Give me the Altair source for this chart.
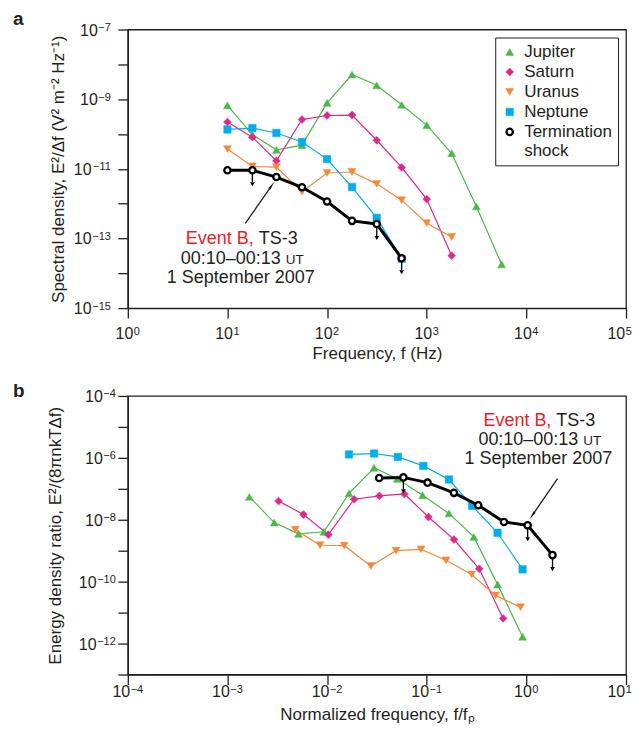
import altair as alt
import pandas as pd

DARK = "#231F20"
RED = "#ED1C24"
FONT = "Liberation Sans"

SERIES = ["Jupiter", "Saturn", "Uranus", "Neptune", "Termination shock"]
COLORS = ["#4CB848", "#E0288C", "#F5873A", "#00AEEF", "#000000"]
FILLS = ["#4CB848", "#E0288C", "#F5873A", "#00AEEF", "#FFFFFF"]
SHAPES = ["triangle-up", "diamond", "triangle-down", "square", "circle"]
SIZES = [62, 62, 62, 56, 40]
STROKE_W = [0.5, 0.5, 0.5, 0.5, 2.3]

# ---------------- panel a: spectral density vs frequency (Hz)
a_jupiter_f = [10, 17.8, 31, 56, 100, 178, 315, 560, 1000, 1780, 3150, 5650]
a_jupiter_v = [6.6e-10, 9.5e-11, 3.5e-11, 4.8e-11, 7.8e-10, 5.1e-9, 2.5e-9, 6.9e-10, 1.8e-10, 2.8e-11, 8.3e-13, 1.8e-14]
a_saturn_f = [10, 17.8, 31, 56, 100, 178, 315, 560, 1000, 1780]
a_saturn_v = [2.2e-10, 8.1e-11, 1.7e-11, 2.6e-10, 3.4e-10, 3.5e-10, 6.6e-11, 1.1e-11, 1.35e-12, 3.2e-14]
a_uranus_f = [10, 17.8, 31, 56, 100, 178, 315, 560, 1000, 1780]
a_uranus_v = [3.7e-11, 1.17e-11, 1.12e-11, 2.2e-12, 7.6e-12, 8.1e-12, 3.7e-12, 1.26e-12, 2.75e-13, 1.1e-13]
a_neptune_f = [10, 17.8, 31, 56, 100, 178, 315, 560]
a_neptune_v = [1.35e-10, 1.48e-10, 1.07e-10, 5.9e-11, 1.9e-11, 3.0e-12, 3.9e-13, 2.6e-14]
a_ts_f = [10, 17.8, 31, 56, 100, 178, 315, 560]
a_ts_v = [9.1e-12, 9.1e-12, 5.8e-12, 2.95e-12, 1.15e-12, 3.2e-13, 2.6e-13, 2.7e-14]
a_ts_limit = [False, True, False, False, False, False, True, True]

a_x_ticks = [1, 10, 100, 1e3, 1e4, 1e5]
a_x_exp = ["0", "1", "2", "3", "4", "5"]
a_y_ticks = [1e-15, 1e-14, 1e-13, 1e-12, 1e-11, 1e-10, 1e-9, 1e-8, 1e-7]
a_y_exp = ["−15", "", "−13", "", "−11", "", "−9", "", "−7"]

a_note_xy = [13.6, 9.4e-14]
a_arrow_tail = [15.1, 2.72e-13]
a_arrow_head = [27.35, 3.08e-12]

# ---------------- panel b: energy density ratio vs normalized frequency
b_jupiter_f = [1.66e-3, 2.95e-3, 5.16e-3, 9.3e-3, 1.66e-2, 2.96e-2, 5.07e-2, 9.1e-2, 0.167, 0.297, 0.514, 0.916]
b_jupiter_v = [5.5e-8, 8.1e-9, 3.5e-9, 4.1e-9, 7.1e-8, 4.8e-7, 2.1e-7, 6.2e-8, 1.6e-8, 2.8e-9, 8.1e-11, 1.66e-12]
b_saturn_f = [3.26e-3, 5.8e-3, 1.03e-2, 1.87e-2, 3.35e-2, 5.97e-2, 0.104, 0.1875, 0.3365, 0.585]
b_saturn_v = [4.0e-8, 1.48e-8, 3.3e-9, 4.6e-8, 5.9e-8, 6.8e-8, 1.23e-8, 2.3e-9, 2.6e-10, 6.5e-12]
b_uranus_f = [4.79e-3, 8.5e-3, 1.49e-2, 2.75e-2, 4.92e-2, 8.77e-2, 0.156, 0.2825, 0.491, 0.875]
b_uranus_v = [4.8e-9, 1.5e-9, 1.45e-9, 3.2e-10, 1.0e-9, 1.1e-9, 4.9e-10, 1.7e-10, 3.6e-11, 1.5e-11]
b_neptune_f = [1.66e-2, 2.96e-2, 5.13e-2, 9.25e-2, 0.167, 0.286, 0.514, 0.916]
b_neptune_v = [1.29e-6, 1.38e-6, 1.07e-6, 5.5e-7, 2.0e-7, 2.8e-8, 3.8e-9, 2.5e-10]
b_ts_f = [3.33e-2, 5.83e-2, 0.102, 0.1875, 0.329, 0.596, 1.03, 1.83]
b_ts_v = [2.24e-7, 2.34e-7, 1.58e-7, 7.4e-8, 2.95e-8, 8.5e-9, 6.6e-9, 7.2e-10]
b_ts_limit = [False, True, False, False, False, False, True, True]

b_x_ticks = [1e-4, 1e-3, 1e-2, 1e-1, 1, 10]
b_x_exp = ["−4", "−3", "−2", "−1", "0", "1"]
b_y_ticks = [1e-13, 1e-12, 1e-11, 1e-10, 1e-9, 1e-8, 1e-7, 1e-6, 1e-5, 1e-4]
b_y_exp = ["", "−12", "", "−10", "", "−8", "", "−6", "", "−4"]

b_note_xy = [1.32, 1.59e-5]
b_arrow_tail = [2.054, 2.14e-7]
b_arrow_head = [1.162, 1.47e-8]

W, H = 499, 279
BASE_FS = 16
EXP_FS = 11
W10 = 2 * 0.556 * BASE_FS   # width of "10"
CH = 0.57 * EXP_FS          # width of one exponent character
GAP = 0.5
RIGHT_LIMIT = 505           # rightmost pixel (from plot origin) kept inside the page


def series_frame(pairs):
    rows = []
    for name, xs, ys in pairs:
        for i, (xv, yv) in enumerate(zip(xs, ys)):
            rows.append({"series": name, "x": xv, "y": yv, "i": i})
    return pd.DataFrame(rows)


LEG = alt.Legend(
    title=None, orient="top-right", offset=8, strokeColor=DARK, padding=6,
    labelFontSize=17, labelFont=FONT, labelColor=DARK,
    rowPadding=2, labelOffset=6,
    labelExpr="datum.label == 'Termination shock' ? ['Termination', 'shock'] : datum.label",
)


def x_tick_labels(ticks, exps, X, base_dy, exp_dy):
    df = pd.DataFrame({"x": ticks, "exp": exps})
    df["n"] = df["exp"].str.len()
    last = df["x"] == df["x"].max()
    df["shift"] = 0.0
    tw_last = W10 + GAP + df.loc[last, "n"].iloc[0] * CH
    df.loc[last, "shift"] = min(0.0, RIGHT_LIMIT - (W + tw_last / 2))
    layers = []
    for (n, sh), g in df.groupby(["n", "shift"]):
        tw = W10 + GAP + n * CH
        c = alt.Chart(g).encode(x=X)
        layers.append(c.mark_text(text="10", align="right", baseline="alphabetic",
                                  dx=-tw / 2 + W10 + sh, fontSize=BASE_FS, color=DARK, font=FONT)
                      .encode(y=alt.value(H + base_dy)))
        layers.append(c.mark_text(align="left", baseline="alphabetic",
                                  dx=-tw / 2 + W10 + GAP + sh, fontSize=EXP_FS, color=DARK, font=FONT)
                      .encode(text="exp:N", y=alt.value(H + exp_dy)))
    return layers


def y_tick_labels(ticks, exps, Y, right):
    df = pd.DataFrame({"y": ticks, "exp": exps})
    df = df[df["exp"] != ""].copy()
    df["n"] = df["exp"].str.len()
    layers = []
    for n, g in df.groupby("n"):
        c = alt.Chart(g).encode(y=Y)
        layers.append(c.mark_text(text="10", align="right", baseline="alphabetic", dy=6,
                                  fontSize=BASE_FS, color=DARK, font=FONT)
                      .encode(x=alt.value(-right - n * CH - GAP)))
        layers.append(c.mark_text(align="right", baseline="alphabetic", dy=1.5,
                                  fontSize=EXP_FS, color=DARK, font=FONT)
                      .encode(text="exp:N", x=alt.value(-right)))
    return layers


def panel(planets, ts_x, ts_v, ts_limit, xdom, xticks, xexp, xtitle, x_pad, x_dys,
          ydom, yticks, yexp, ytitle, y_pad, y_right, note_xy, tail, head, head_angle,
          letter, letter_y, legend):
    X = alt.X("x:Q", scale=alt.Scale(type="log", domain=xdom, nice=False),
              axis=alt.Axis(values=xticks, labels=False, title=xtitle, titlePadding=x_pad))
    Y = alt.Y("y:Q", scale=alt.Scale(type="log", domain=ydom, nice=False),
              axis=alt.Axis(values=yticks, labels=False, title=ytitle, titlePadding=y_pad))

    leg = LEG if legend else None
    sym = dict(
        shape=alt.Shape("series:N", scale=alt.Scale(domain=SERIES, range=SHAPES), legend=leg),
        fill=alt.Fill("series:N", scale=alt.Scale(domain=SERIES, range=FILLS), legend=leg),
        stroke=alt.Stroke("series:N", scale=alt.Scale(domain=SERIES, range=COLORS), legend=leg),
        strokeWidth=alt.StrokeWidth("series:N", scale=alt.Scale(type="ordinal", domain=SERIES, range=STROKE_W), legend=leg),
        size=alt.Size("series:N", scale=alt.Scale(type="ordinal", domain=SERIES, range=SIZES), legend=leg),
    )

    pdf = series_frame(planets)
    tdf = series_frame([("Termination shock", ts_x, ts_v)])
    tdf["limit"] = ts_limit
    ldf = tdf[tdf["limit"]]

    lines = alt.Chart(pdf).mark_line(strokeWidth=1.2).encode(
        x=X, y=Y,
        color=alt.Color("series:N", scale=alt.Scale(domain=SERIES[:4], range=COLORS[:4]), legend=None),
        order="i:Q",
    )
    pts = alt.Chart(pdf).mark_point(opacity=1, fillOpacity=1).encode(x=X, y=Y, **sym)
    ts_line = alt.Chart(tdf).mark_line(strokeWidth=3, color="black").encode(x=X, y=Y, order="i:Q")
    stems = alt.Chart(ldf).mark_rule(color="black", strokeWidth=1.3, y2Offset=12).encode(
        x=X, y=Y, y2=alt.Y2("y:Q"))
    heads = alt.Chart(ldf).mark_point(shape="triangle-down", filled=True, opacity=1,
                                      color="black", size=22, yOffset=14).encode(x=X, y=Y)
    ts_pts = alt.Chart(tdf).mark_point(opacity=1, fillOpacity=1).encode(x=X, y=Y, **sym)

    adf = pd.DataFrame({"x": [tail[0]], "y": [tail[1]], "x2": [head[0]], "y2": [head[1]]})
    arrow = alt.Chart(adf).mark_rule(color=DARK, strokeWidth=1.3).encode(
        x=X, y=Y, x2=alt.X2("x2:Q"), y2=alt.Y2("y2:Q"))
    hdf = pd.DataFrame({"x": [head[0]], "y": [head[1]]})
    arrow_head = alt.Chart(hdf).mark_point(shape="wedge", angle=head_angle, filled=True,
                                           opacity=1, color=DARK, size=110).encode(x=X, y=Y)

    ndf = pd.DataFrame({"x": [note_xy[0]], "y": [note_xy[1]]})
    nb = alt.Chart(ndf).encode(x=X, y=Y)
    t1a = nb.mark_text(text="Event B,", align="right", dx=13, color=RED, fontSize=18, font=FONT)
    t1b = nb.mark_text(text="TS-3", align="left", dx=18, color=DARK, fontSize=18, font=FONT)
    t2a = nb.mark_text(text="00:10–00:13", align="right", dx=40, dy=19.5, color=DARK, fontSize=18, font=FONT)
    t2b = nb.mark_text(text="UT", align="left", dx=45, dy=20.5, color=DARK, fontSize=13.5, font=FONT)
    t3 = nb.mark_text(text="1 September 2007", align="center", dx=0, dy=38.5, color=DARK, fontSize=18, font=FONT)

    let = alt.Chart(pd.DataFrame({"t": [letter]})).mark_text(
        text=letter, align="left", baseline="alphabetic", fontSize=19, fontWeight="bold",
        color=DARK, font=FONT).encode(x=alt.value(-115), y=alt.value(letter_y))

    ticks = x_tick_labels(xticks, xexp, X, *x_dys) + y_tick_labels(yticks, yexp, Y, y_right)

    return alt.layer(lines, pts, ts_line, stems, heads, ts_pts, arrow, arrow_head,
                     t1a, t1b, t2a, t2b, t3, let, *ticks).properties(width=W, height=H)


top = panel(
    [("Jupiter", a_jupiter_f, a_jupiter_v), ("Saturn", a_saturn_f, a_saturn_v),
     ("Uranus", a_uranus_f, a_uranus_v), ("Neptune", a_neptune_f, a_neptune_v)],
    a_ts_f, a_ts_v, a_ts_limit, [1, 1e5], a_x_ticks, a_x_exp, "Frequency, f (Hz)", 27, (31.3, 27),
    [1e-15, 1e-7], a_y_ticks, a_y_exp, "Spectral density, E²/Δf (V² m⁻² Hz⁻¹)", 50, 17,
    a_note_xy, a_arrow_tail, a_arrow_head, 35, "a", -5, True)

bottom = panel(
    [("Jupiter", b_jupiter_f, b_jupiter_v), ("Saturn", b_saturn_f, b_saturn_v),
     ("Uranus", b_uranus_f, b_uranus_v), ("Neptune", b_neptune_f, b_neptune_v)],
    b_ts_f, b_ts_v, b_ts_limit, [1e-4, 10], b_x_ticks, b_x_exp, "Normalized frequency, f/fₚ", 21, (22.5, 18.5),
    [1e-13, 1e-4], b_y_ticks, b_y_exp, "Energy density ratio, E²/(8πnkTΔf)", 53, 12,
    b_note_xy, b_arrow_tail, b_arrow_head, 214.5, "b", 1, False)

chart = alt.vconcat(top, bottom, spacing=18).resolve_scale(
    color="independent", fill="independent", stroke="independent",
    shape="independent", strokeWidth="independent", size="independent",
).properties(
    padding={"left": 4, "top": 0, "right": 0, "bottom": 3}
).configure(font=FONT).configure_view(
    stroke=DARK, strokeWidth=1.3
).configure_axis(
    domainColor=DARK, domainWidth=1.3, tickColor=DARK, tickWidth=1.3, tickSize=10,
    titleFontSize=17, titleColor=DARK, titleFont=FONT, titleFontWeight="normal", grid=False,
)

chart.save("out.html", embed_options={"renderer": "svg", "actions": False})
